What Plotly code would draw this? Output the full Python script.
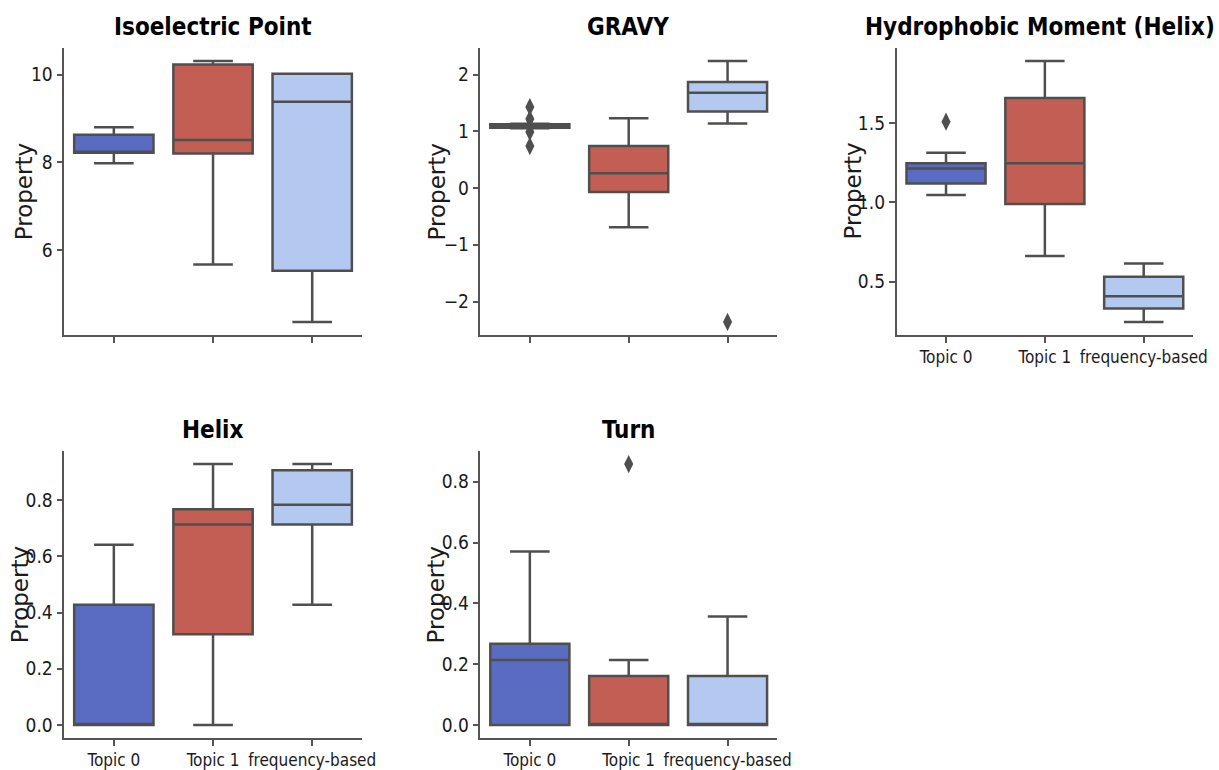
import plotly.graph_objects as go

# ---------------- data ----------------
categories = ["Topic 0", "Topic 1", "frequency-based"]
box_colors = ["#5A6BC2", "#C35E55", "#B4C9F0"]

titles = ["Isoelectric Point", "GRAVY", "Hydrophobic Moment (Helix)", "Helix", "Turn"]

# per property: lower whisker, Q1, median, Q3, upper whisker (one value per category)
iso_low = [7.98, 5.67, 4.36]
iso_q1 = [8.22, 8.20, 5.53]
iso_med = [8.24, 8.51, 9.38]
iso_q3 = [8.63, 10.23, 10.02]
iso_high = [8.80, 10.31, 10.02]
iso_out_x, iso_out_y = [], []

gravy_low = [1.055, -0.69, 1.14]
gravy_q1 = [1.065, -0.07, 1.35]
gravy_med = [1.10, 0.26, 1.68]
gravy_q3 = [1.125, 0.74, 1.87]
gravy_high = [1.135, 1.23, 2.24]
gravy_out_x = ["Topic 0", "Topic 0", "Topic 0", "Topic 0", "frequency-based"]
gravy_out_y = [1.43, 1.22, 0.99, 0.74, -2.36]

hm_low = [1.047, 0.662, 0.245]
hm_q1 = [1.12, 0.99, 0.33]
hm_med = [1.214, 1.247, 0.408]
hm_q3 = [1.247, 1.66, 0.53]
hm_high = [1.314, 1.893, 0.614]
hm_out_x = ["Topic 0"]
hm_out_y = [1.51]

helix_low = [0.0, 0.0, 0.428]
helix_q1 = [0.0, 0.323, 0.714]
helix_med = [0.0, 0.714, 0.784]
helix_q3 = [0.428, 0.768, 0.907]
helix_high = [0.642, 0.929, 0.929]
helix_out_x, helix_out_y = [], []

turn_low = [0.0, 0.0, 0.0]
turn_q1 = [0.0, 0.0, 0.0]
turn_med = [0.214, 0.0, 0.0]
turn_q3 = [0.267, 0.161, 0.161]
turn_high = [0.570, 0.214, 0.357]
turn_out_x = ["Topic 1"]
turn_out_y = [0.858]

y_tickvals = [
    [6, 8, 10],
    [-2, -1, 0, 1, 2],
    [0.5, 1.0, 1.5],
    [0.0, 0.2, 0.4, 0.6, 0.8],
    [0.0, 0.2, 0.4, 0.6, 0.8],
]
y_tickformats = ["d", "d", ".1f", ".1f", ".1f"]

panels = [
    (iso_low, iso_q1, iso_med, iso_q3, iso_high, iso_out_x, iso_out_y),
    (gravy_low, gravy_q1, gravy_med, gravy_q3, gravy_high, gravy_out_x, gravy_out_y),
    (hm_low, hm_q1, hm_med, hm_q3, hm_high, hm_out_x, hm_out_y),
    (helix_low, helix_q1, helix_med, helix_q3, helix_high, helix_out_x, helix_out_y),
    (turn_low, turn_q1, turn_med, turn_q3, turn_high, turn_out_x, turn_out_y),
]

# ---------------- layout (pixel boxes of each axes) ----------------
W, H = 1219, 770
axes_px = [
    (65, 366, 48, 335),
    (486, 786, 48, 335),
    (907, 1207, 48, 335),
    (65, 366, 451, 738),
    (486, 786, 451, 738),
]
title_cx = [215, 635, 1052, 215, 636]
title_cy = [27, 27, 27, 430, 430]
show_xlabels = [False, False, True, True, True]
ylabel_offset = [40, 43, 44, 45, 45]

LINE = "#4F4F4F"
SPINE = "#555555"
TXT = "#1a1a1a"
NARROW = "DejaVu Sans Condensed, Liberation Sans Narrow, sans-serif"

fig = go.Figure()
layout = dict(
    width=W, height=H,
    margin=dict(l=0, r=0, t=0, b=0),
    paper_bgcolor="white", plot_bgcolor="white",
    showlegend=False, boxmode="overlay",
    annotations=[],
)

for i, (low, q1, med, q3, high, ox, oy) in enumerate(panels):
    n = i + 1
    xa = "x" if n == 1 else f"x{n}"
    ya = "y" if n == 1 else f"y{n}"
    for c, cat in enumerate(categories):
        fig.add_trace(go.Box(
            x=[cat], q1=[q1[c]], median=[med[c]], q3=[q3[c]],
            lowerfence=[low[c]], upperfence=[high[c]],
            width=0.8, whiskerwidth=0.5,
            fillcolor=box_colors[c],
            line=dict(color=LINE, width=2.5),
            boxpoints=False, hoverinfo="skip",
            xaxis=xa, yaxis=ya,
        ))
    if ox:
        fig.add_trace(go.Scatter(
            x=ox, y=oy, mode="markers",
            marker=dict(symbol="diamond-tall", size=13, color=LINE,
                        line=dict(width=0)),
            xaxis=xa, yaxis=ya, hoverinfo="skip",
        ))
    allv = low + q1 + med + q3 + high + oy
    lo, hi = min(allv), max(allv)
    pad = 0.05 * (hi - lo)
    x0, x1, y0, y1 = axes_px[i]
    xd = [x0 / W, x1 / W]
    yd = [1 - y1 / H, 1 - y0 / H]
    key_x = "xaxis" if n == 1 else f"xaxis{n}"
    key_y = "yaxis" if n == 1 else f"yaxis{n}"
    layout[key_x] = dict(
        domain=xd, anchor=ya, type="category",
        categoryorder="array", categoryarray=categories,
        range=[-0.5, 2.5],
        showline=True, linecolor=SPINE, linewidth=1.5,
        ticks="outside", ticklen=6, tickwidth=1.5, tickcolor=SPINE,
        showticklabels=show_xlabels[i],
        tickfont=dict(family=NARROW, size=17, color=TXT),
        showgrid=False, zeroline=False, fixedrange=True,
    )
    layout[key_y] = dict(
        domain=yd, anchor=xa,
        range=[lo - pad, hi + pad],
        tickvals=y_tickvals[i], tickformat=y_tickformats[i],
        showline=True, linecolor=SPINE, linewidth=1.5,
        ticks="outside", ticklen=6, tickwidth=1.5, tickcolor=SPINE,
        tickfont=dict(family=NARROW, size=19, color=TXT),
        showgrid=False, zeroline=False, fixedrange=True,
    )
    # panel title
    layout["annotations"].append(dict(
        text="<b>" + titles[i] + "</b>", xref="paper", yref="paper",
        x=title_cx[i] / W, y=1 - title_cy[i] / H,
        xanchor="center", yanchor="middle", showarrow=False,
        font=dict(family=NARROW, size=24, color="black"),
    ))
    # y label
    layout["annotations"].append(dict(
        text="Property", xref="paper", yref="paper",
        x=(x0 - ylabel_offset[i]) / W, y=1 - (y0 + y1) / 2 / H,
        xanchor="center", yanchor="middle", textangle=-90, showarrow=False,
        font=dict(family="DejaVu Sans", size=23, color=TXT),
    ))

fig.update_layout(**layout)
fig.write_html(
    "out.html",
    config={"displayModeBar": False},
    post_script="document.body.style.margin='0';document.body.style.overflow='hidden';",
)
